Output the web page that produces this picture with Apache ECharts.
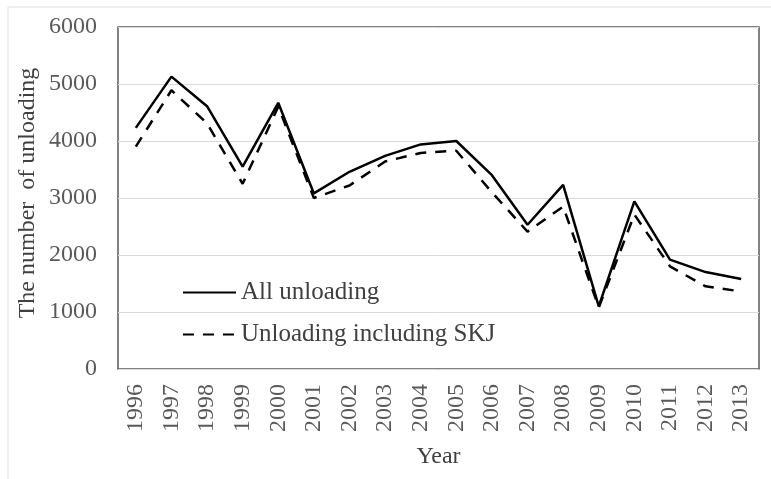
<!DOCTYPE html>
<html>
<head>
<meta charset="utf-8">
<script src="https://cdn.jsdelivr.net/npm/echarts@6/dist/echarts.min.js"></script>
<style>
  html, body { margin: 0; padding: 0; background: #fff; }
  #chart { width: 771px; height: 479px; }
</style>
</head>
<body>
<div id="chart"></div>
<script>
var years = ['1996','1997','1998','1999','2000','2001','2002','2003','2004','2005','2006','2007','2008','2009','2010','2011','2012','2013']
var allUnloading = [4230, 5130, 4610, 3550, 4670, 3080, 3460, 3740, 3940, 4000, 3400, 2530, 3230, 1100, 2940, 1920, 1700, 1580]
var skjUnloading = [3900, 4890, 4310, 3250, 4600, 3000, 3220, 3640, 3790, 3830, 3100, 2410, 2850, 1080, 2710, 1800, 1450, 1360]
var yTicks = { min: 0, max: 6000, interval: 1000 }

var font = 'Liberation Serif'
var chart = echarts.init(document.getElementById('chart'))
var option = {
  animation: false,
  textStyle: { fontFamily: font },
  grid: {
    left: 118,
    top: 27,
    right: 12,
    bottom: 110,
    show: true,
    borderColor: '#595959',
    borderWidth: 1.5
  },
  legend: {
    orient: 'vertical',
    left: 177,
    top: 275,
    itemWidth: 53,
    itemHeight: 14,
    itemGap: 17,
    itemStyle: { opacity: 0 },
    textStyle: { fontFamily: font, fontSize: 25, color: '#404040' },
    data: ['All unloading', 'Unloading including SKJ']
  },
  xAxis: {
    type: 'category',
    data: years,
    boundaryGap: true,
    name: 'Year',
    nameLocation: 'middle',
    nameGap: 76,
    nameTextStyle: { fontFamily: font, fontSize: 24, color: '#404040' },
    axisLine: { show: false },
    axisTick: { show: false },
    axisLabel: { rotate: 90, margin: 15, fontFamily: font, fontSize: 24, color: '#595959' }
  },
  yAxis: {
    type: 'value',
    min: yTicks.min,
    max: yTicks.max,
    interval: yTicks.interval,
    axisLine: { show: false },
    axisTick: { show: false },
    axisLabel: {
      margin: 21,
      fontFamily: font,
      fontSize: 24,
      color: '#595959',
      formatter: function (v) { return String(v) }
    },
    splitLine: { lineStyle: { color: '#d9d9d9', width: 1 } }
  },
  graphic: [
    {
      type: 'rect',
      shape: { x: 8, y: 7, width: 900, height: 600 },
      style: { fill: 'none', stroke: '#e0e0e0', lineWidth: 1 },
      silent: true
    },
    {
      type: 'text',
      x: 28,
      y: 193,
      rotation: Math.PI / 2,
      style: {
        text: 'The number  of unloading',
        font: '24px "Liberation Serif"',
        fill: '#404040',
        align: 'center',
        verticalAlign: 'middle'
      }
    }
  ],
  series: [
    {
      name: 'All unloading',
      type: 'line',
      data: allUnloading,
      symbol: 'none',
      lineStyle: { color: '#000', width: 2.5, type: 'solid' },
      itemStyle: { color: '#000' }
    },
    {
      name: 'Unloading including SKJ',
      type: 'line',
      data: skjUnloading,
      symbol: 'none',
      lineStyle: { color: '#000', width: 2.5, type: [11, 9] },
      itemStyle: { color: '#000' }
    }
  ]
}
chart.setOption(option)
</script>
</body>
</html>
